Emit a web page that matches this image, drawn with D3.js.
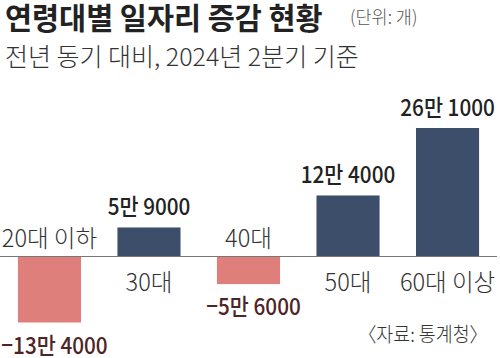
<!DOCTYPE html>
<html><head><meta charset="utf-8">
<script src="https://cdn.jsdelivr.net/npm/d3@7"></script>
<style>
body{margin:0;background:#fff;}
svg text{font-family:"Noto Sans CJK KR","Noto Sans",sans-serif;}
</style></head>
<body><svg id="c" width="500" height="358"></svg>
<script>
const categories = ["20대 이하","30대","40대","50대","60대 이상"];
const values = [-134000, 59000, -56000, 124000, 261000];
const valueLabels = ["−13만 4000","5만 9000","−5만 6000","12만 4000","26만 1000"];
const title = "연령대별 일자리 증감 현황";
const unit = "(단위: 개)";
const subtitle = "전년 동기 대비, 2024년 2분기 기준";
const source = "〈자료: 통계청〉";

const svg = d3.select("#c");
const x = d3.scaleBand().domain(categories).range([0,497]).paddingInner(0.366).paddingOuter(0.18);
const y = d3.scaleLinear().domain([-134000, 261000]).range([322.5, 128]);

function condense(sel, k){
  sel.each(function(){
    const w = this.getComputedTextLength();
    this.setAttribute("textLength", w*k);
    this.setAttribute("lengthAdjust","spacingAndGlyphs");
  });
  return sel;
}

condense(svg.append("text").attr("x",5).attr("y",29).attr("font-size",30).attr("font-weight",700).attr("fill","#222").text(title), 0.98);
condense(svg.append("text").attr("x",350).attr("y",24).attr("font-size",18).attr("font-weight",300).attr("fill","#555").text(unit), 0.97);
condense(svg.append("text").attr("x",5).attr("y",66).attr("font-size",25).attr("font-weight",300).attr("fill","#333").text(subtitle), 1.0);

const data = categories.map((c,i)=>({c, v:values[i], l:valueLabels[i]}));

svg.append("g").selectAll("rect").data(data).join("rect")
  .attr("x", d=>x(d.c)).attr("width", x.bandwidth())
  .attr("y", d=>Math.min(y(d.v), y(0))).attr("height", d=>Math.abs(y(d.v)-y(0)))
  .attr("fill", d=>d.v>=0 ? "#3c4e6a" : "#df7f7c");

svg.append("line").attr("x1",0).attr("x2",497).attr("y1",y(0)).attr("y2",y(0))
  .attr("stroke","#777").attr("stroke-width",1.2);

condense(svg.append("g").selectAll("text").data(data).join("text")
  .attr("x", d=>x(d.c)+x.bandwidth()/2)
  .attr("y", d=> d.v>=0 ? y(0)+34 : y(0)-9.5)
  .attr("text-anchor","middle").attr("font-size",24).attr("font-weight",300).attr("fill","#333")
  .text(d=>d.c), 0.98);

condense(svg.append("g").selectAll("text").data(data).join("text")
  .attr("x", d=>x(d.c)+x.bandwidth()/2 + (d.v<0?5:0))
  .attr("y", d=> d.v>=0 ? y(d.v)-12.5 : y(d.v)+31)
  .attr("text-anchor","middle").attr("font-size",23).attr("font-weight",500)
  .attr("fill", d=>d.v>=0 ? "#222" : "#4e2424")
  .text(d=>d.l), 0.9);

condense(svg.append("text").attr("x",488).attr("y",342).attr("text-anchor","end").attr("font-size",20).attr("font-weight",300).attr("fill","#333").text(source), 0.92);
</script></body></html>
